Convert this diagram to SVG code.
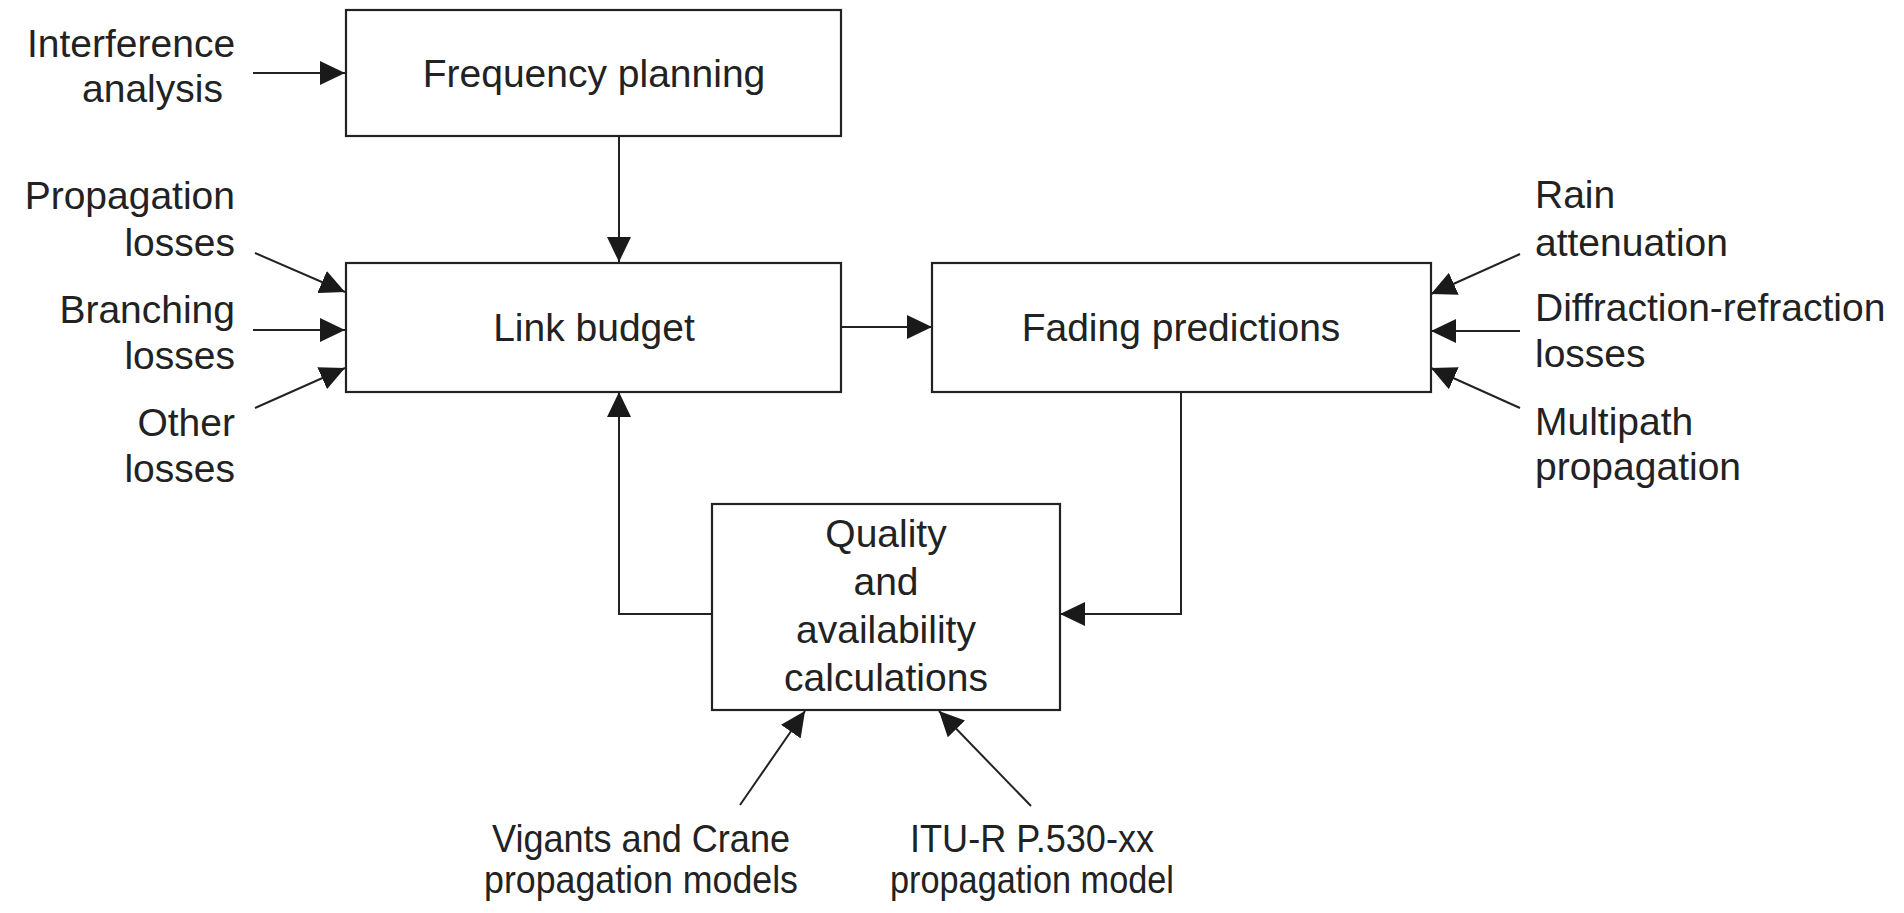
<svg xmlns="http://www.w3.org/2000/svg" width="1904" height="913" viewBox="0 0 1904 913">
  <style>
    .box { fill: #ffffff; stroke: #222222; stroke-width: 2.2; }
    .lbl { font-family: "Liberation Sans", Arial, sans-serif; font-size: 39px; fill: #222222; }
    .mid { text-anchor: middle; }
    .end { text-anchor: end; }
    .conn { fill: none; stroke: #222222; stroke-width: 2; }
  </style>
  <defs>
    <marker id="arrow" viewBox="0 0 25 24" refX="25" refY="12" markerWidth="25" markerHeight="24" markerUnits="userSpaceOnUse" orient="auto">
      <path d="M0,0 L25,12 L0,24 Z" fill="#1a1a1a"/>
    </marker>
  </defs>
  <rect width="1904" height="913" fill="#ffffff"/>

  <g id="connectors">
    <line class="conn" x1="253" y1="73" x2="345" y2="73" marker-end="url(#arrow)"/>
    <line class="conn" x1="619" y1="136" x2="619" y2="262" marker-end="url(#arrow)"/>
    <line class="conn" x1="255" y1="253" x2="345" y2="292" marker-end="url(#arrow)"/>
    <line class="conn" x1="253" y1="330" x2="345" y2="330" marker-end="url(#arrow)"/>
    <line class="conn" x1="255" y1="408" x2="345" y2="368" marker-end="url(#arrow)"/>
    <line class="conn" x1="841" y1="327" x2="932" y2="327" marker-end="url(#arrow)"/>
    <line class="conn" x1="1520" y1="254" x2="1431" y2="294" marker-end="url(#arrow)"/>
    <line class="conn" x1="1520" y1="331" x2="1431" y2="331" marker-end="url(#arrow)"/>
    <line class="conn" x1="1520" y1="408" x2="1431" y2="368" marker-end="url(#arrow)"/>
    <polyline class="conn" points="1181,392 1181,614 1060,614" marker-end="url(#arrow)"/>
    <polyline class="conn" points="712,614 619,614 619,392" marker-end="url(#arrow)"/>
    <line class="conn" x1="740" y1="805" x2="805" y2="711" marker-end="url(#arrow)"/>
    <line class="conn" x1="1031" y1="806" x2="939" y2="711" marker-end="url(#arrow)"/>
  </g>

  <g id="frequency-planning">
    <rect class="box" x="346" y="10" width="495" height="126"/>
    <text class="lbl mid" x="594" y="87">Frequency planning</text>
  </g>
  <g id="link-budget">
    <rect class="box" x="346" y="263" width="495" height="129"/>
    <text class="lbl mid" x="594" y="341">Link budget</text>
  </g>
  <g id="fading-predictions">
    <rect class="box" x="932" y="263" width="499" height="129"/>
    <text class="lbl mid" x="1181" y="341">Fading predictions</text>
  </g>
  <g id="quality">
    <rect class="box" x="712" y="504" width="348" height="206"/>
    <text class="lbl mid" x="886" y="547">Quality</text>
    <text class="lbl mid" x="886" y="595">and</text>
    <text class="lbl mid" x="886" y="643">availability</text>
    <text class="lbl mid" x="886" y="691">calculations</text>
  </g>

  <g id="interference-analysis">
    <text class="lbl" x="27" y="57">Interference</text>
    <text class="lbl" x="82" y="102">analysis</text>
  </g>
  <g id="propagation-losses">
    <text class="lbl end" x="235" y="209">Propagation</text>
    <text class="lbl end" x="235" y="256">losses</text>
  </g>
  <g id="branching-losses">
    <text class="lbl end" x="235" y="323">Branching</text>
    <text class="lbl end" x="235" y="369">losses</text>
  </g>
  <g id="other-losses">
    <text class="lbl end" x="235" y="436">Other</text>
    <text class="lbl end" x="235" y="482">losses</text>
  </g>
  <g id="rain-attenuation">
    <text class="lbl" x="1535" y="208">Rain</text>
    <text class="lbl" x="1535" y="256">attenuation</text>
  </g>
  <g id="diffraction-refraction-losses">
    <text class="lbl" x="1535" y="321">Diffraction-refraction</text>
    <text class="lbl" x="1535" y="367">losses</text>
  </g>
  <g id="multipath-propagation">
    <text class="lbl" x="1535" y="435">Multipath</text>
    <text class="lbl" x="1535" y="480">propagation</text>
  </g>
  <g id="vigants-crane">
    <text class="lbl mid" x="641" y="852" textLength="298" lengthAdjust="spacingAndGlyphs">Vigants and Crane</text>
    <text class="lbl mid" x="641" y="893" textLength="314" lengthAdjust="spacingAndGlyphs">propagation models</text>
  </g>
  <g id="itu-r">
    <text class="lbl mid" x="1032" y="852" textLength="244" lengthAdjust="spacingAndGlyphs">ITU-R P.530-xx</text>
    <text class="lbl mid" x="1032" y="893" textLength="284" lengthAdjust="spacingAndGlyphs">propagation model</text>
  </g>
</svg>
